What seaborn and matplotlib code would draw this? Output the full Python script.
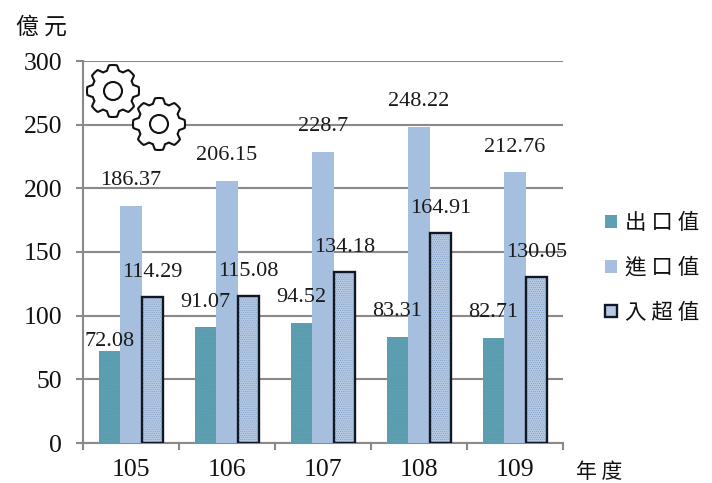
import numpy as np
import pandas as pd
import matplotlib
matplotlib.use("Agg")
import matplotlib.pyplot as plt
from matplotlib.patches import Circle, Polygon, Patch, Rectangle
from matplotlib.transforms import IdentityTransform
import seaborn as sns

years = ["105", "106", "107", "108", "109"]
exports = [72.08, 91.07, 94.52, 83.31, 82.71]
imports = [186.37, 206.15, 228.7, 248.22, 212.76]
deficit = [114.29, 115.08, 134.18, 164.91, 130.05]
series_names = ["出 口 值", "進 口 值", "入 超 值"]
y_ticks = [0, 50, 100, 150, 200, 250, 300]

TEAL = "#5f9fb2"
BLUE = "#a6bfde"
STIPPLE = "#b4c8e2"
DOTS = "#6f8fbf"
OUTLINE = "#101828"
GRID = "#8a8a8a"
CJK = ["Noto Sans CJK TC", "DejaVu Sans"]
SERIF = "Liberation Serif"

sns.set_theme(style="white")
plt.rcParams["hatch.linewidth"] = 0.3

W, H = 712, 483
fig = plt.figure(figsize=(W / 100, H / 100), dpi=100)
ax = fig.add_axes([83 / W, (H - 443) / H, 480 / W, 382 / H])

frame = pd.DataFrame({
    "year": years * 3,
    "series": np.repeat(series_names, len(years)),
    "value": exports + imports + deficit,
})
sns.barplot(data=frame, x="year", y="value", hue="series", hue_order=series_names,
            palette=[TEAL, BLUE, STIPPLE], gap=0, width=0.67, saturation=1,
            legend=False, zorder=3, linewidth=0, edgecolor="none", ax=ax)

# Stippled fill for exports; deficit bars get dots plus a separate dark outline
for patch in ax.containers[0]:
    patch.set_hatch("........")
    patch.set_edgecolor("#4f93a6")
    patch.set_linewidth(0)
for patch in ax.containers[2]:
    patch.set_hatch("........")
    patch.set_edgecolor(DOTS)
    patch.set_linewidth(0)
    ax.add_patch(Rectangle((patch.get_x(), 0), patch.get_width(), patch.get_height(),
                           fill=False, edgecolor=OUTLINE, linewidth=1.7, zorder=3.2))

ax.set_xlim(-0.5, 4.5)
ax.set_ylim(0, 300)
ax.set_yticks(y_ticks)
ax.set_xlabel("")
ax.set_ylabel("")
ax.grid(axis="y", color=GRID, linewidth=1.5, zorder=1)
ax.set_axisbelow(True)
for side in ("top", "right"):
    ax.spines[side].set_visible(False)
for side in ("left", "bottom"):
    ax.spines[side].set_color(GRID)
    ax.spines[side].set_linewidth(1.5)
    ax.spines[side].set_zorder(2.5)

# Category ticks sit on the band boundaries
ax.set_xticks(np.arange(-0.5, 5), minor=False, labels=[""] * 6)
ax.tick_params(axis="x", length=5, width=1.5, color=GRID, bottom=True, pad=0)
ax.tick_params(axis="y", length=5, width=1.5, color=GRID, left=True, pad=10,
               labelsize=18.5, labelfontfamily=SERIF, labelcolor="#111111")
for pos, year in enumerate(years):
    ax.annotate(year, (pos, 0), xycoords=("data", "axes fraction"), xytext=(0, -27),
                textcoords="offset pixels", ha="center", va="center",
                family=SERIF, fontsize=18.5, color="#111111")

# Value labels, lifted a fixed distance above their bars
label_lift = 25
lift_overrides = {(0, 0): 10}
label_size = 16
for s, (values, container) in enumerate(zip((exports, imports, deficit), ax.containers)):
    for i, (value, patch) in enumerate(zip(values, container)):
        ax.annotate(f"{value:g}", (patch.get_x() + patch.get_width() / 2, value),
                    xytext=(0, lift_overrides.get((s, i), label_lift)),
                    textcoords="offset pixels", ha="center", va="center",
                    family=SERIF, fontsize=label_size, color="#1a1a1a", zorder=5,
                    annotation_clip=False)

fig.text(16 / W, 1 - 27 / H, "億 元", family=CJK, fontsize=16.5, color="#111111",
         ha="left", va="center")
fig.text(576 / W, 1 - 472 / H, "年 度", family=CJK, fontsize=15, color="#111111",
         ha="left", va="center")

handles = [
    Patch(facecolor=TEAL, edgecolor="none"),
    Patch(facecolor=BLUE, edgecolor="none"),
    Patch(facecolor=STIPPLE, edgecolor=OUTLINE, linewidth=1.7),
]
ax.legend(handles, series_names, loc="center left", bbox_to_anchor=(605 / W, 1 - 268 / H),
          bbox_transform=fig.transFigure, frameon=False, handlelength=0.55, handleheight=0.55,
          handletextpad=0.4, labelspacing=1.05, borderpad=0, borderaxespad=0,
          prop={"family": CJK, "size": 15.5}, labelcolor="#111111")


def gear_outline(cx, cy, outer, inner, teeth=8, samples=480):
    """Closed rounded-gear outline in pixel coordinates measured from the top-left corner."""
    theta = np.linspace(0, 2 * np.pi, samples, endpoint=False)
    wave = np.clip(1.9 * np.cos(teeth * theta) + 0.35, -1, 1)
    radius = (outer + inner) / 2 + (outer - inner) / 2 * wave
    return np.column_stack([cx + radius * np.cos(theta), H - (cy + radius * np.sin(theta))])


# Decorative pair of gears in the upper-left corner of the plot
for cx, cy in [(113, 91), (159, 124)]:
    fig.add_artist(Polygon(gear_outline(cx, cy, 26, 21), closed=True, facecolor="white",
                           edgecolor="#111111", linewidth=1.5, transform=IdentityTransform(),
                           zorder=6))
    fig.add_artist(Circle((cx, H - cy), 9, facecolor="white", edgecolor="#111111",
                          linewidth=1.5, transform=IdentityTransform(), zorder=7))

fig.savefig("out.png", dpi=100)
